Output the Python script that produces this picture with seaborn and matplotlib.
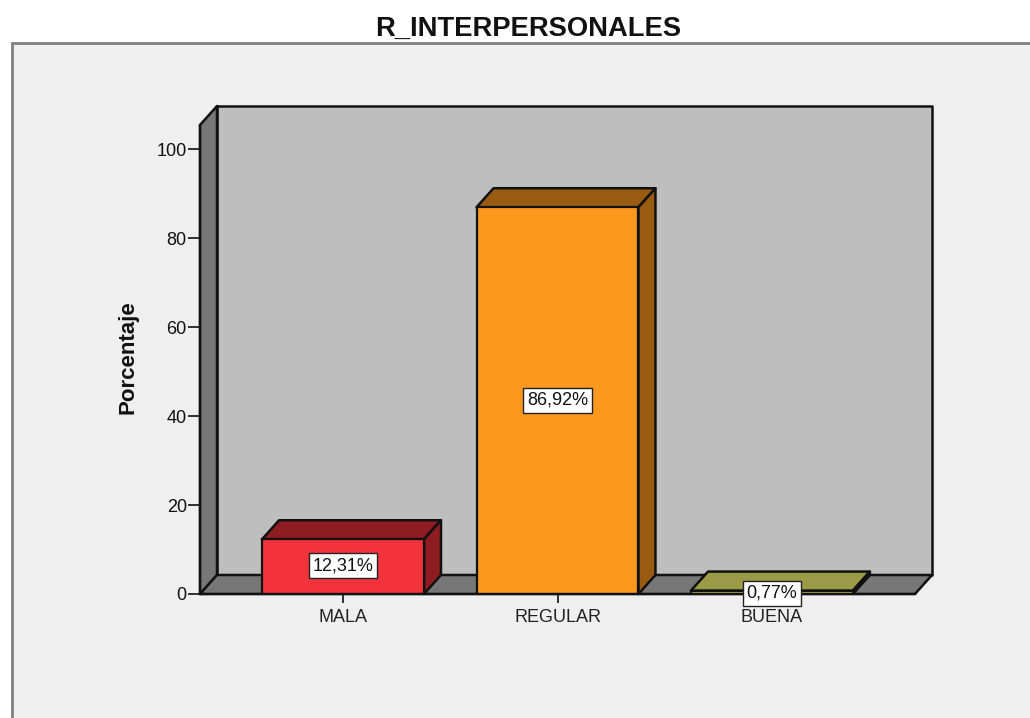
import matplotlib
matplotlib.use('Agg')
import matplotlib.pyplot as plt
from matplotlib.patches import Rectangle
import pandas as pd
import seaborn as sns

categories = ['MALA', 'REGULAR', 'BUENA']
percent = [12.31, 86.92, 0.77]
labels = ['12,31%', '86,92%', '0,77%']
label_y = [6.3, 43.5, 0.2]

front_colors = ['#F2333B', '#FB981D', '#C6C458']
top_colors = ['#8E1C20', '#985B11', '#9B9A47']
side_colors = ['#8E1C20', '#985B11', '#5F5E28']

W, H = 1030, 718
sns.set_theme(style='white')
plt.rcParams['font.family'] = ['Liberation Sans', 'DejaVu Sans']

fig = plt.figure(figsize=(W / 100, H / 100), dpi=100, facecolor='white')

# grey panel behind the chart, runs off the right and bottom edges
fig.add_artist(Rectangle((12 / W, -0.02), 1.1, 1 - 43 / H + 0.02, transform=fig.transFigure,
                         facecolor='#EFEFEF', edgecolor='#808080', linewidth=2, zorder=-1))

ax = fig.add_axes([200 / W, 1 - 594 / H, 715 / W, 469 / H])
ax.patch.set_alpha(0)

df = pd.DataFrame({'cat': categories, 'pct': percent})
sns.barplot(data=df, x='cat', y='pct', hue='cat', palette=front_colors, legend=False,
            width=0.755, saturation=1, edgecolor='#111111', linewidth=1.6, ax=ax, zorder=4)

ax.set_xlim(-0.667, 2.667)
ax.set_ylim(0, 105.4)

# 3d depth, same offset for the box and the bars
dx = 17 / 214.5
dy = 19 / 4.45
x0, x1 = ax.get_xlim()
y0, y1 = ax.get_ylim()
edge = dict(edgecolor='#111111', linewidth=1.8, clip_on=False, joinstyle='round')

ax.fill([x0 + dx, x1 + dx, x1 + dx, x0 + dx], [y0 + dy, y0 + dy, y1 + dy, y1 + dy],
        facecolor='#BEBEBE', zorder=1, **edge)
ax.fill([x0, x0 + dx, x0 + dx, x0], [y0, y0 + dy, y1 + dy, y1],
        facecolor='#777777', zorder=1, **edge)
ax.fill([x0, x1, x1 + dx, x0 + dx], [y0, y0, y0 + dy, y0 + dy],
        facecolor='#777777', zorder=1, **edge)

for bar, top, side in zip(ax.patches, top_colors, side_colors):
    l, r = bar.get_x(), bar.get_x() + bar.get_width()
    h = bar.get_height()
    ax.fill([l, r, r + dx, l + dx], [h, h, h + dy, h + dy], facecolor=top, zorder=3, **edge)
    ax.fill([r, r + dx, r + dx, r], [0, dy, h + dy, h], facecolor=side, zorder=3, **edge)

for i, (txt, y) in enumerate(zip(labels, label_y)):
    ax.text(i, y, txt, ha='center', va='center', fontsize=13, color='#111111', zorder=6,
            bbox=dict(boxstyle='square,pad=0.22', facecolor='white', edgecolor='#222222', linewidth=1))

for s in ['top', 'right']:
    ax.spines[s].set_visible(False)
for s in ['left', 'bottom']:
    ax.spines[s].set_color('#111111')
    ax.spines[s].set_linewidth(1.6)
    ax.spines[s].set_zorder(5)

ax.set_yticks([0, 20, 40, 60, 80, 100])
ax.tick_params(axis='y', left=True, length=8.5, width=1.2, color='#111111', labelsize=13,
               labelcolor='#111111', pad=1)
ax.tick_params(axis='x', bottom=True, length=6.5, width=1.2, color='#111111', labelsize=13,
               labelcolor='#222222', pad=4)
ax.set_xlabel('')
ax.set_ylabel('Porcentaje', fontsize=16, fontweight='bold', color='#111111')
ax.yaxis.set_label_coords((139 - 200) / 715, (594 - 357) / 469)

fig.text(528 / W, 1 - 29 / H, 'R_INTERPERSONALES', ha='center', va='center', fontsize=19.7,
         fontweight='bold', color='#111111')

fig.savefig('out.png', dpi=100)
